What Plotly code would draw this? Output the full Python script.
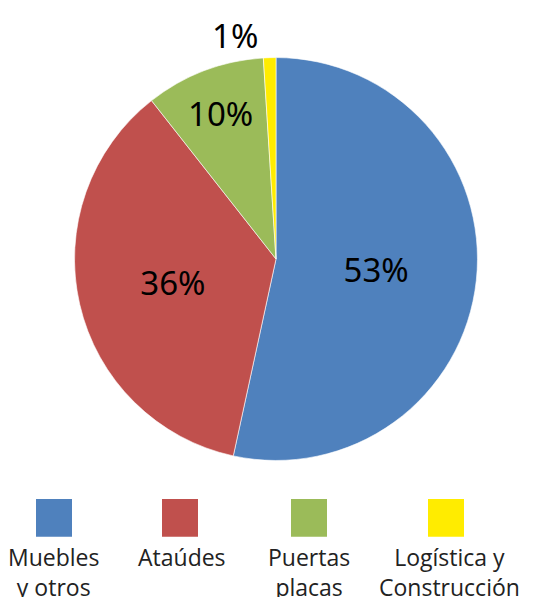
import plotly.graph_objects as go

categories = ["Muebles y otros", "Ataúdes", "Puertas placas", "Logística y Construcción"]
legend_lines = ["Muebles<br>y otros", "Ataúdes", "Puertas<br>placas", "Logística y<br>Construcción"]
values = [53.4, 36.0, 9.6, 1.0]
colors = ["#4F81BD", "#C0504D", "#9BBB59", "#FFEC00"]
text_positions = ["inside", "inside", "inside", "outside"]

W, H = 555, 597
OFF = 8  # page body margin offset
cx, cy, r = 276 - OFF, 255.5 - OFF, 203.5

fig = go.Figure()
fig.add_trace(go.Pie(
    labels=categories,
    values=values,
    sort=False,
    direction="clockwise",
    rotation=0,
    marker=dict(colors=colors, line=dict(color="white", width=0.6)),
    texttemplate="%{percent:.0%}",
    textposition=text_positions,
    insidetextorientation="horizontal",
    textfont=dict(family="Noto Sans", size=33, color="black"),
    showlegend=False,
    hoverinfo="label+percent",
    domain=dict(x=[(cx - r) / W, (cx + r) / W], y=[1 - (cy + r) / H, 1 - (cy - r) / H]),
))

# custom legend: square above label
sq_centers = [54, 180, 309, 446]
txt_centers = [53, 182, 309, 449]
shapes = []
annotations = []
for i, name in enumerate(legend_lines):
    xc = sq_centers[i] - OFF
    shapes.append(dict(type="rect", xref="paper", yref="paper",
                       x0=(xc - 18) / W, x1=(xc + 18) / W,
                       y0=1 - (536 - OFF) / H, y1=1 - (498 - OFF) / H,
                       fillcolor=colors[i], line=dict(width=0)))
    annotations.append(dict(x=(txt_centers[i] - OFF) / W, y=1 - 530 / H, xref="paper", yref="paper",
                            text=name, showarrow=False, xanchor="center", yanchor="top",
                            align="center",
                            font=dict(family="Open Sans", size=23, color="#222222")))

fig.update_layout(
    width=W, height=H,
    margin=dict(l=0, r=0, t=0, b=0),
    paper_bgcolor="white", plot_bgcolor="white",
    shapes=shapes, annotations=annotations,
)

fig.write_html("out.html")
